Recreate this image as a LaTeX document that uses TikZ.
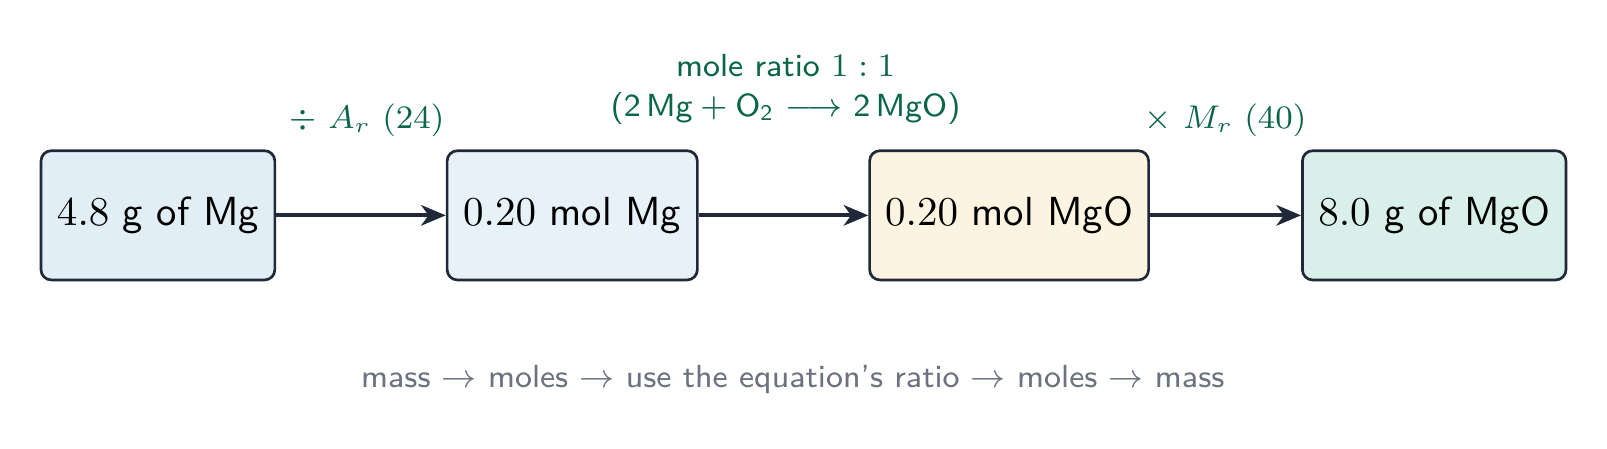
\documentclass[tikz,border=0pt]{standalone}
\usetikzlibrary{arrows.meta}
\renewcommand{\familydefault}{\sfdefault}
\definecolor{edge}{HTML}{1F2937}
\definecolor{fillA}{HTML}{E1EEF6}
\definecolor{fillB}{HTML}{E6F1F8}
\definecolor{fillC}{HTML}{FCF3E1}
\definecolor{fillD}{HTML}{D9F0EA}
\definecolor{labgreen}{HTML}{0B6647}
\definecolor{note}{HTML}{6B7280}
\begin{document}
\begin{tikzpicture}[x=0.25pt,y=-0.25pt,
  box/.style={draw=edge,line width=0.65pt,rounded corners=2.5pt,minimum height=31.5pt,inner sep=0pt,font=\fontsize{9.9}{12}\selectfont,text=black},
  conn/.style={draw=edge,line width=0.95pt,-{Stealth[length=6pt,width=5pt,inset=1.8pt]}},
  lab/.style={text=labgreen,font=\fontsize{7.8}{9.5}\selectfont,inner sep=0pt,align=center},
  ]
\useasboundingbox (0,0) rectangle (1567,437);
\node[box,fill=fillA,minimum width=57pt] (b1) at (154,210) {$4.8$ g of Mg};
\node[box,fill=fillB,minimum width=61pt] (b2) at (558,210) {$0.20$ mol Mg};
\node[box,fill=fillC,minimum width=68pt] (b3) at (984,210) {$0.20$ mol MgO};
\node[box,fill=fillD,minimum width=64.25pt] (b4) at (1398.5,210) {$8.0$ g of MgO};
\draw[conn] (b1) -- (b2);
\draw[conn] (b2) -- (b3);
\draw[conn] (b3) -- (b4);
\node[lab] (l1) at (358,117) {$\div\ A_r\ (24)$};
\node[lab] (l2a) at (766,64) {mole ratio $1:1$};
\node[lab] (l2b) at (766,106) {(2\,Mg${}+{}$O\textsubscript{2} $\longrightarrow$ 2\,MgO)};
\node[lab] (l3) at (1195,117) {$\times\ M_r\ (40)$};
\node[text=note,font=\fontsize{7.8}{9.5}\selectfont,inner sep=0pt] (foot) at (773,370) {mass $\to$ moles $\to$ use the equation's ratio $\to$ moles $\to$ mass};
\end{tikzpicture}
\end{document}
